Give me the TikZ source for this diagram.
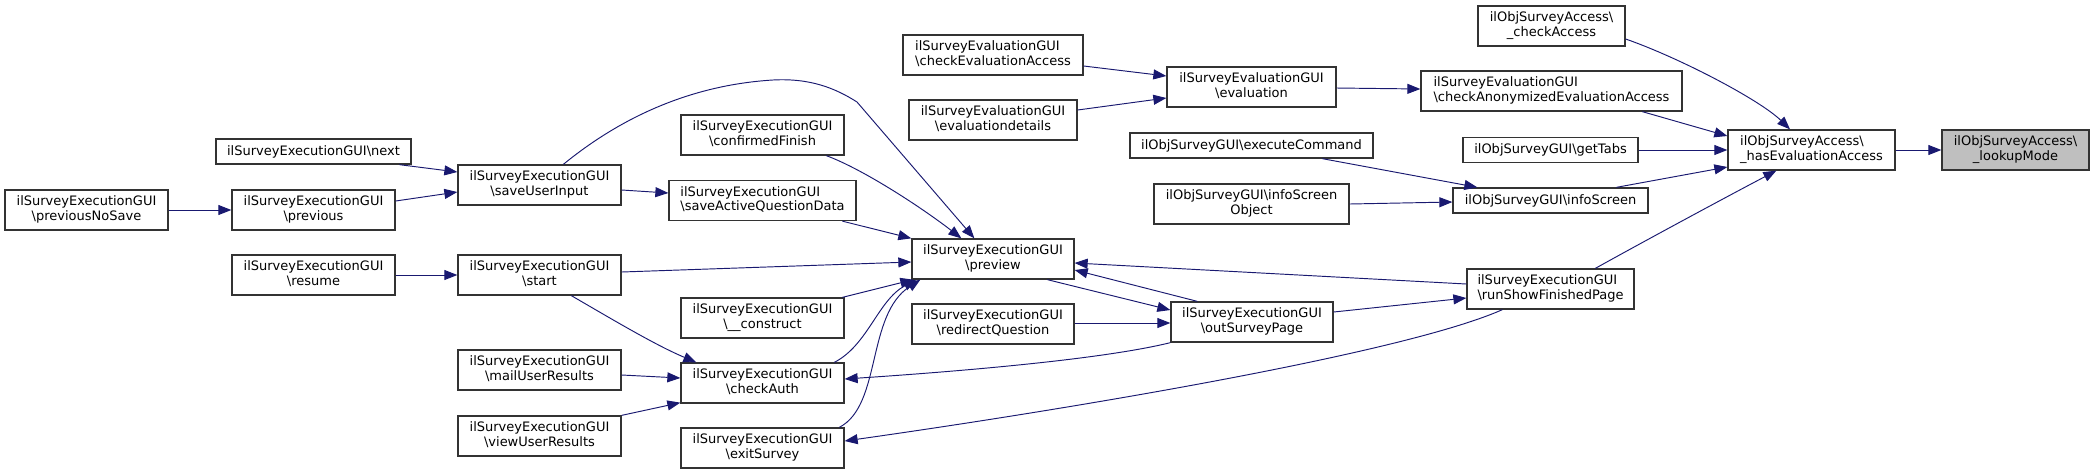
\documentclass[tikz,border=0pt]{standalone}
\usepackage{fontspec}
\setmainfont{DejaVu Sans}
\usetikzlibrary{arrows.meta,calc}
\definecolor{edgec}{HTML}{191970}
\definecolor{bord}{HTML}{333333}
\definecolor{selfill}{HTML}{BFBFBF}
\newcommand{\twoline}[2]{\begin{tabular}{@{}l@{}}#1\\\multicolumn{1}{@{}c@{}}{#2}\end{tabular}}
\tikzset{
  box/.style={draw=bord, line width=1.3pt, fill=white, inner sep=0pt, minimum height=40pt,
    font=\fontsize{13}{14.5}\selectfont, align=center},
  onebox/.style={box, minimum height=25pt},
  edge/.style={draw=edgec, line width=0.95pt, -{Triangle[length=13pt,width=10pt]}},
}
\begin{document}
\begin{tikzpicture}[x=1pt,y=-1pt]
\useasboundingbox (0,0) rectangle (2095,475);

% nodes
\node[box, minimum width=147pt, fill=selfill] (lookup) at (2015.5,150) {\twoline{ilObjSurveyAccess\textbackslash}{\_lookupMode}};
\node[box, minimum width=167pt] (hasEval) at (1811.5,150) {\twoline{ilObjSurveyAccess\textbackslash}{\_hasEvaluationAccess}};
\node[box, minimum width=147pt] (checkAccess) at (1551.5,26) {\twoline{ilObjSurveyAccess\textbackslash}{\_checkAccess}};
\node[box, minimum width=261pt] (checkAnon) at (1551.5,91) {\twoline{ilSurveyEvaluationGUI}{\textbackslash checkAnonymizedEvaluationAccess}};
\node[onebox, minimum width=175pt] (getTabs) at (1550.5,150) {ilObjSurveyGUI\textbackslash getTabs};
\node[onebox, minimum width=195pt] (infoScreen) at (1550.5,200.5) {ilObjSurveyGUI\textbackslash infoScreen};
\node[box, minimum width=167pt] (runShow) at (1550.5,289) {\twoline{ilSurveyExecutionGUI}{\textbackslash runShowFinishedPage}};
\node[box, minimum width=169pt] (evaluation) at (1251.5,87) {\twoline{ilSurveyEvaluationGUI}{\textbackslash evaluation}};
\node[onebox, minimum width=243pt] (executeCommand) at (1251.5,145.5) {ilObjSurveyGUI\textbackslash executeCommand};
\node[box, minimum width=195pt] (infoScreenObject) at (1251.5,204) {\twoline{ilObjSurveyGUI\textbackslash infoScreen}{Object}};
\node[box, minimum width=162pt] (outSurvey) at (1252,322) {\twoline{ilSurveyExecutionGUI}{\textbackslash outSurveyPage}};
\node[box, minimum width=180pt] (checkEvalAccess) at (993,55) {\twoline{ilSurveyEvaluationGUI}{\textbackslash checkEvaluationAccess}};
\node[box, minimum width=168pt] (evaluationdetails) at (993,120) {\twoline{ilSurveyEvaluationGUI}{\textbackslash evaluationdetails}};
\node[box, minimum width=162pt] (preview) at (993,259) {\twoline{ilSurveyExecutionGUI}{\textbackslash preview}};
\node[box, minimum width=162pt] (redirect) at (993,324) {\twoline{ilSurveyExecutionGUI}{\textbackslash redirectQuestion}};
\node[box, minimum width=163pt] (confirmedFinish) at (762.5,135) {\twoline{ilSurveyExecutionGUI}{\textbackslash confirmedFinish}};
\node[box, minimum width=187pt] (saveActive) at (762.5,200.5) {\twoline{ilSurveyExecutionGUI}{\textbackslash saveActiveQuestionData}};
\node[box, minimum width=163pt] (construct) at (762.5,318) {\twoline{ilSurveyExecutionGUI}{\textbackslash\_\_construct}};
\node[box, minimum width=163pt] (checkAuth) at (762.5,383) {\twoline{ilSurveyExecutionGUI}{\textbackslash checkAuth}};
\node[box, minimum width=163pt] (exitSurvey) at (762.5,448) {\twoline{ilSurveyExecutionGUI}{\textbackslash exitSurvey}};
\node[box, minimum width=163pt] (saveUserInput) at (539.5,185) {\twoline{ilSurveyExecutionGUI}{\textbackslash saveUserInput}};
\node[box, minimum width=163pt] (start) at (539.5,275) {\twoline{ilSurveyExecutionGUI}{\textbackslash start}};
\node[box, minimum width=163pt] (mail) at (539.5,370) {\twoline{ilSurveyExecutionGUI}{\textbackslash mailUserResults}};
\node[box, minimum width=163pt] (view) at (539.5,436) {\twoline{ilSurveyExecutionGUI}{\textbackslash viewUserResults}};
\node[onebox, minimum width=195pt] (next) at (313.5,151.5) {ilSurveyExecutionGUI\textbackslash next};
\node[box, minimum width=163pt] (previous) at (313.5,210) {\twoline{ilSurveyExecutionGUI}{\textbackslash previous}};
\node[box, minimum width=163pt] (resume) at (313.5,275) {\twoline{ilSurveyExecutionGUI}{\textbackslash resume}};
\node[box, minimum width=163pt] (previousNoSave) at (86.5,210) {\twoline{ilSurveyExecutionGUI}{\textbackslash previousNoSave}};

% edges
\draw[edge] (hasEval.east) -- (lookup.west);
\draw[edge] ($(checkAccess.east)+(0,13)$) .. controls (1680,58) and (1760,100) .. ($(hasEval.north)+(-21.5,0)$);
\draw[edge] ($(checkAnon.south west)+(222,0)$) -- ($(hasEval.west)+(0,-14)$);
\draw[edge] (getTabs.east) -- (getTabs.east -| hasEval.west);
\draw[edge] ($(infoScreen.north west)+(164,0)$) -- ($(hasEval.west)+(0,17)$);
\draw[edge] ($(runShow.north west)+(129,0)$) .. controls (1650,238) and (1730,195) .. ($(hasEval.south west)+(49,0)$);
\draw[edge] ($(evaluation.east)+(0,1)$) -- ($(checkAnon.west)+(0,-2)$);
\draw[edge] ($(checkEvalAccess.east)+(0,11)$) -- ($(evaluation.west)+(0,-11)$);
\draw[edge] ($(evaluationdetails.east)+(0,-10)$) -- ($(evaluation.west)+(0,11)$);
\draw[edge] ($(executeCommand.south west)+(193,0)$) -- ($(infoScreen.north west)+(25,0)$);
\draw[edge] (infoScreenObject.east) -- ($(infoScreen.west)+(0,1.5)$);
\draw[edge] ($(runShow.west)+(0,-5)$) -- ($(preview.east)+(0,4)$);
\draw[edge] ($(outSurvey.east)+(0,-10)$) -- ($(runShow.west)+(0,9)$);
\draw[edge] ($(runShow.south west)+(36,0)$) .. controls (1400,355) and (1050,412) .. ($(exitSurvey.east)+(0,-7)$);
\draw[edge] ($(preview.south west)+(136,0)$) -- ($(outSurvey.west)+(0,-12)$);
\draw[edge] ($(outSurvey.north west)+(27,0)$) -- ($(preview.east)+(0,11)$);
\draw[edge] ($(redirect.east)+(0,-1)$) -- ($(outSurvey.west)+(0,1)$);
\draw[edge] (outSurvey.south west) .. controls (1100,360) and (950,372) .. ($(checkAuth.east)+(0,-4)$);
\draw[edge] ($(saveUserInput.north west)+(106,0)$) .. controls (620,118) and (690,85) .. (773,80) .. controls (810,78) and (835,88) .. (857,102) -- ($(preview.north west)+(63,0)$);
\draw[edge] ($(confirmedFinish.south west)+(146,0)$) .. controls (865,170) and (925,210) .. ($(preview.north west)+(50,0)$);
\draw[edge] ($(saveActive.south west)+(174,0)$) -- (preview.north west);
\draw[edge] ($(start.east)+(0,-3)$) -- ($(preview.west)+(0,3)$);
\draw[edge] ($(construct.north west)+(162,0)$) -- ($(preview.south west)+(2,0)$);
\draw[edge] ($(checkAuth.north west)+(154,0)$) .. controls (868,345) and (878,300) .. ($(preview.south west)+(5,0)$);
\draw[edge] ($(exitSurvey.north west)+(159,0)$) .. controls (882,405) and (866,315) .. ($(preview.south west)+(9,0)$);
\draw[edge] ($(next.south west)+(184,0)$) -- ($(saveUserInput.west)+(0,-13)$);
\draw[edge] ($(previous.east)+(0,-9)$) -- ($(saveUserInput.west)+(0,7)$);
\draw[edge] ($(saveUserInput.east)+(0,5)$) -- ($(saveActive.west)+(0,-7.5)$);
\draw[edge] (previousNoSave.east) -- (previous.west);
\draw[edge] (resume.east) -- (start.west);
\draw[edge] ($(start.south west)+(114,0)$) .. controls (610,318) and (655,345) .. ($(checkAuth.north west)+(16,0)$);
\draw[edge] ($(mail.east)+(0,5)$) -- ($(checkAuth.west)+(0,-5)$);
\draw[edge] (view.north east) -- ($(checkAuth.south west)+(0,-1)$);
\end{tikzpicture}
\end{document}
